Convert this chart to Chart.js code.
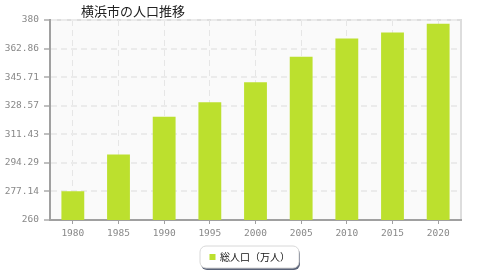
<!DOCTYPE html>
<html>
<head>
<meta charset="utf-8">
<script src="https://cdn.jsdelivr.net/npm/chart.js@4/dist/chart.umd.min.js"></script>
<style>
  html, body { margin: 0; padding: 0; background: #fff; }
  #wrap { width: 480px; height: 280px; position: relative; }
</style>
</head>
<body>
<div id="wrap"><canvas id="c"></canvas></div>
<script>
// 横浜市の人口推移 — 棒グラフ
const TITLE = '横浜市の人口推移';
const years = ['1980', '1985', '1990', '1995', '2000', '2005', '2010', '2015', '2020'];
const pop = [277.3, 299.3, 322.0, 330.7, 342.7, 357.9, 368.9, 372.5, 377.7];
const seriesName = '総人口（万人）';
const yTicks = [260, 277.14, 294.29, 311.43, 328.57, 345.71, 362.86, 380];

const BAR = '#bce02e';
const monoFont = { family: "'DejaVu Sans Mono', 'Liberation Mono', monospace", size: 9.5 };

// 背景・枠・タイトル・凡例を描くプラグイン
const deco = {
  id: 'deco',
  beforeDraw(chart) {
    const { ctx, chartArea: a } = chart;
    ctx.save();
    ctx.fillStyle = '#fafafa';
    ctx.fillRect(a.left, a.top, a.right - a.left, a.bottom - a.top);
    ctx.strokeStyle = '#dddddd';
    ctx.lineWidth = 2;
    ctx.beginPath();
    ctx.moveTo(a.left, a.top);
    ctx.lineTo(a.right, a.top);
    ctx.lineTo(a.right, a.bottom);
    ctx.stroke();
    ctx.restore();
  },
  afterDraw(chart) {
    const { ctx } = chart;
    ctx.save();
    // タイトル
    ctx.fillStyle = '#222';
    ctx.font = "13px 'Noto Sans CJK JP'";
    ctx.textBaseline = 'middle';
    ctx.textAlign = 'left';
    ctx.fillText(TITLE, 81, 11);

    // 凡例
    const x = 200, y = 246, w = 99, h = 22, r = 6;
    ctx.fillStyle = '#5a6378';
    ctx.beginPath(); ctx.roundRect(x + 1, y + 2, w, h, r); ctx.fill();
    ctx.fillStyle = '#fff';
    ctx.strokeStyle = '#d8d8d8';
    ctx.lineWidth = 1;
    ctx.beginPath(); ctx.roundRect(x, y, w, h, r); ctx.fill(); ctx.stroke();
    ctx.fillStyle = BAR;
    ctx.fillRect(209.5, 254, 6, 6);
    ctx.fillStyle = '#111';
    ctx.font = "10px 'Noto Sans CJK JP'";
    ctx.fillText(seriesName, 220, 257.5);
    ctx.restore();
  }
};

new Chart('c', {
  type: 'bar',
  data: {
    labels: years,
    datasets: [{
      label: seriesName,
      data: pop,
      backgroundColor: BAR,
      borderWidth: 0,
      barPercentage: 0.5,
      categoryPercentage: 1.0
    }]
  },
  options: {
    responsive: true, maintainAspectRatio: false, animation: false,
    layout: { padding: { top: 20, right: 19, left: 0, bottom: 0 } },
    plugins: { legend: { display: false }, tooltip: { enabled: false } },
    scales: {
      x: {
        afterFit(s) { s.height = 60; },
        grid: {
          offset: false, color: '#e6e6e6', lineWidth: 1,
          drawTicks: true, tickLength: 4, tickColor: '#a0a0a0', tickBorderDash: []
        },
        border: { color: '#a0a0a0', width: 2, dash: [6, 4] },
        ticks: { color: '#888', font: monoFont, padding: 4, maxRotation: 0 }
      },
      y: {
        min: 260, max: 380,
        afterFit(s) { s.width = 50; },
        afterBuildTicks(s) { s.ticks = yTicks.map(v => ({ value: v })); },
        grid: {
          color: '#ebebeb', lineWidth: 2,
          drawTicks: true, tickLength: 6, tickColor: '#c0c0c0', tickBorderDash: []
        },
        border: { color: '#a0a0a0', width: 2, dash: [6, 4] },
        ticks: { color: '#888', font: monoFont, padding: 5, callback: v => String(+v.toFixed(2)) }
      }
    }
  },
  plugins: [deco]
});
</script>
</body>
</html>
